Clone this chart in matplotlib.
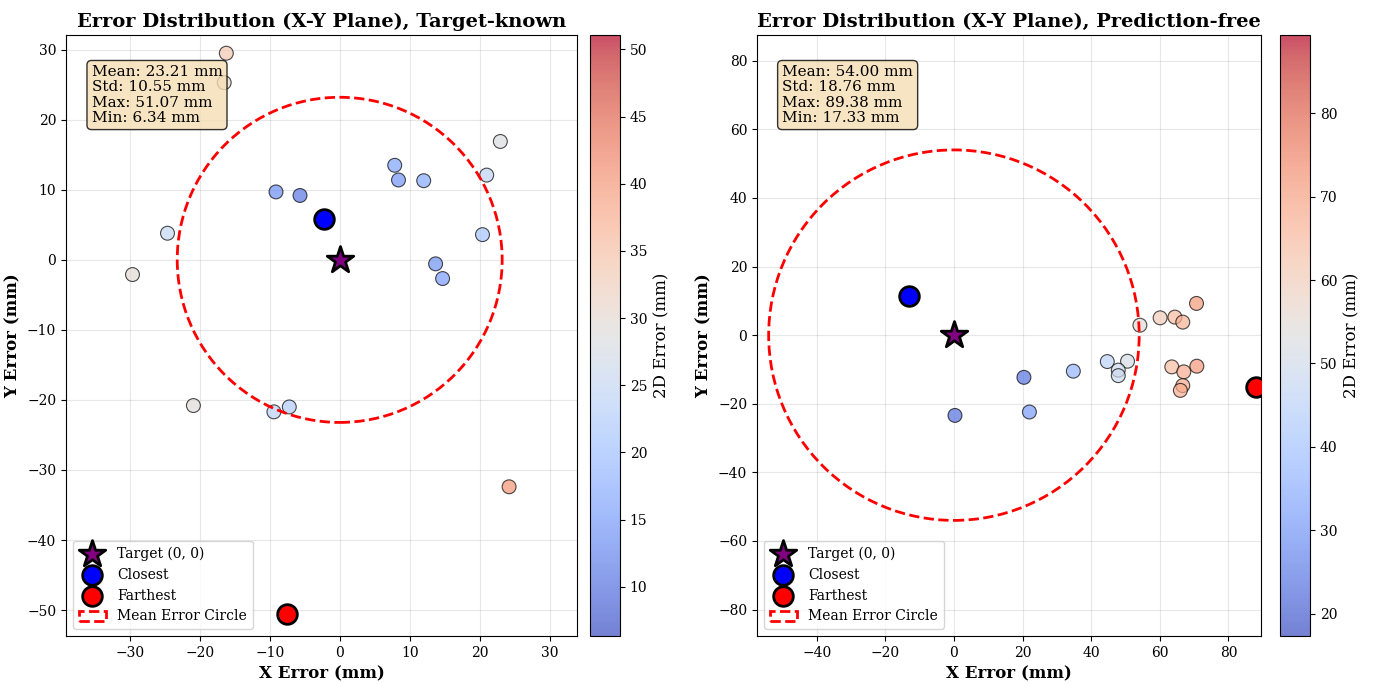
import matplotlib
matplotlib.use("Agg")
import matplotlib.pyplot as plt
import numpy as np

plt.rcParams['font.family'] = ['DejaVu Serif']

# Target-known errors (mm)
tk_x = [-16.2, -16.5, 22.95, 7.86, 8.4, 12.0, 21.0, -9.1, -5.67, -2.29,
        -24.6, 20.4, -29.6, 13.7, 14.7, -20.9, -9.4, -7.2, 24.2, -7.57]
tk_y = [29.5, 25.3, 16.9, 13.5, 11.4, 11.3, 12.1, 9.7, 9.19, 5.86,
        3.8, 3.6, -2.1, -0.57, -2.67, -20.8, -21.7, -21.0, -32.4, -50.6]
tk_stats = [23.21, 10.55, 51.07, 6.34]  # mean, std, max, min

# Prediction-free errors (mm)
pf_x = [70.7, 60.1, 64.4, 66.7, 54.2, 44.7, 50.6, 47.9, 47.9, 34.8,
        20.4, 22.0, 63.5, 67.0, 70.8, 66.7, 66.0, 87.9, -13.1, 0.3]
pf_y = [9.25, 5.05, 5.26, 3.8, 2.9, -7.7, -7.6, -10.2, -11.8, -10.5,
        -12.3, -22.4, -9.25, -10.7, -9.05, -14.7, -16.1, -15.2, 11.4, -23.4]
pf_stats = [54.00, 18.76, 89.38, 17.33]

panels = [
    ("Target-known", tk_x, tk_y, tk_stats, (-39.1, 33.9), (-53.7, 32.1)),
    ("Prediction-free", pf_x, pf_y, pf_stats, (-57.4, 89.5), (-87.7, 87.5)),
]

fig = plt.figure(figsize=(13.73, 6.83), dpi=100)
W, H = 1373, 683
ax_boxes = [(66, 577, 35, 636), (757, 1261, 35, 636)]
cb_boxes = [(590, 620), (1280, 1310)]

for (name, xs, ys, st, xl, yl), (l, r, t, b), (cl, cr) in zip(panels, ax_boxes, cb_boxes):
    ax = fig.add_axes([l / W, 1 - b / H, (r - l) / W, (b - t) / H])
    cax = fig.add_axes([cl / W, 1 - b / H, (cr - cl) / W, (b - t) / H])
    xs = np.array(xs)
    ys = np.array(ys)
    err = np.sqrt(xs ** 2 + ys ** 2)

    sc = ax.scatter(xs, ys, c=err, cmap='coolwarm', s=100, alpha=0.7,
                    edgecolors='black', linewidths=0.8,
                    vmin=st[3], vmax=st[2], zorder=3)
    ax.scatter(0, 0, marker='*', s=400, c='purple', edgecolors='black',
               linewidths=2, label='Target (0, 0)', zorder=5)
    i_min = np.argmin(err)
    i_max = np.argmax(err)
    ax.scatter(xs[i_min], ys[i_min], s=200, c='blue', edgecolors='black',
               linewidths=2, label='Closest', zorder=5)
    ax.scatter(xs[i_max], ys[i_max], s=200, c='red', edgecolors='black',
               linewidths=2, label='Farthest', zorder=5)
    circ = plt.Circle((0, 0), st[0], fill=False, color='red', linestyle='--',
                      linewidth=2, label='Mean Error Circle', zorder=4)
    ax.add_patch(circ)

    ax.set_xlim(*xl)
    ax.set_ylim(*yl)
    ax.grid(True, alpha=0.3)
    ax.set_xlabel('X Error (mm)', fontsize=12, fontweight='bold')
    ax.set_ylabel('Y Error (mm)', fontsize=12, fontweight='bold')
    ax.set_title(f'Error Distribution (X-Y Plane), {name}', fontsize=14,
                 fontweight='bold')
    ax.legend(loc='lower left', fontsize=10)

    txt = (f'Mean: {st[0]:.2f} mm\nStd: {st[1]:.2f} mm\n'
           f'Max: {st[2]:.2f} mm\nMin: {st[3]:.2f} mm')
    ax.text(0.05, 0.95, txt, transform=ax.transAxes, fontsize=11,
            va='top', linespacing=1.12,
            bbox=dict(boxstyle='round', facecolor='wheat', alpha=0.8), zorder=6)

    cb = fig.colorbar(sc, cax=cax)
    cb.set_label('2D Error (mm)', fontsize=12)

fig.savefig('out.png', dpi=100)
